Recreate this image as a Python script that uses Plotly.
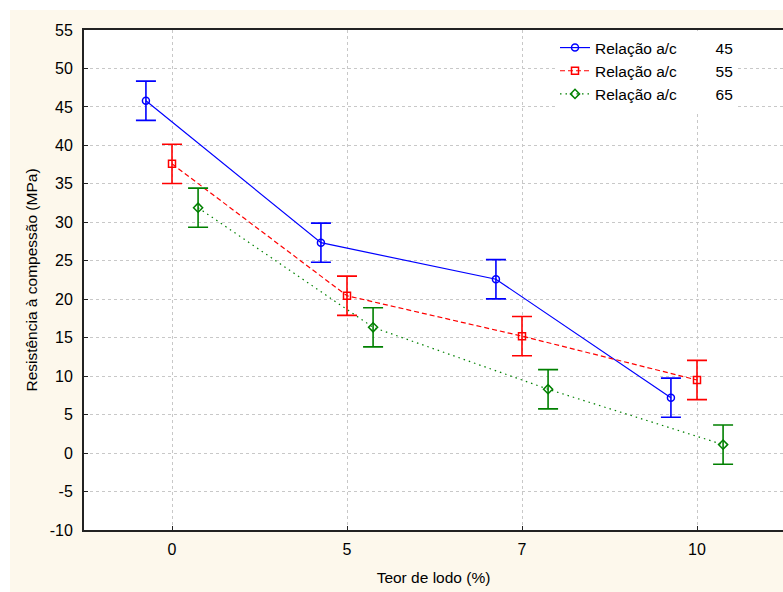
import plotly.graph_objects as go

categories = ["0", "5", "7", "10"]
nb = "\u00a0" * 9
series_names = ["Relação a/c" + nb + "45", "Relação a/c" + nb + "55", "Relação a/c" + nb + "65"]
ac45 = [45.8, 27.35, 22.6, 7.2]
ac55 = [37.6, 20.45, 15.2, 9.5]
ac65 = [31.9, 16.35, 8.3, 1.1]
err45 = [2.55, 2.55, 2.55, 2.55]
err55 = [2.55, 2.55, 2.55, 2.55]
err65 = [2.55, 2.55, 2.55, 2.55]
y_ticks = list(range(-10, 56, 5))
y_ticktext = [str(v) for v in y_ticks]

styles = [
    dict(vals=ac45, err=err45, color="#0000FF", dash="solid", symbol="circle-open", off=-0.149),
    dict(vals=ac55, err=err55, color="#FF0000", dash="5px,3px", symbol="square-open", off=0.0),
    dict(vals=ac65, err=err65, color="#008000", dash="1.5px,4px", symbol="diamond-open", off=0.149),
]

fig = go.Figure()
for name, s in zip(series_names, styles):
    xs = [i + s["off"] for i in range(len(categories))]
    fig.add_trace(go.Scatter(
        x=xs, y=s["vals"], name=name, mode="lines+markers",
        line=dict(color=s["color"], width=1.2, dash=s["dash"]),
        marker=dict(symbol=s["symbol"], size=7, color=s["color"],
                    line=dict(width=1.5, color=s["color"])),
        error_y=dict(type="data", array=s["err"], visible=True,
                     color=s["color"], thickness=1.6, width=10),
    ))

W, H = 783, 592
L, R, T, B = 84, 0, 30, 62
pw, ph = W - L - R, H - T - B
bx0 = (10 - L) / pw
by1 = (H - B - 10) / ph
by0 = (H - B - H) / ph
cat_px = 175.0
x_lo = -(172 - L) / cat_px
x_hi = x_lo + pw / cat_px

fig.update_layout(
    width=W, height=H,
    margin=dict(l=L, r=R, t=T, b=B),
    paper_bgcolor="white", plot_bgcolor="white",
    font=dict(family="Arial, Liberation Sans, sans-serif", color="#000000"),
    showlegend=True,
    legend=dict(x=(555 - L) / pw, y=(H - B - 31) / ph, xanchor="left", yanchor="top",
                bgcolor="white", borderwidth=0, font=dict(size=15.5, color="#000000"),
                tracegroupgap=0, itemwidth=30),
    shapes=[
        dict(type="rect", xref="paper", yref="paper", x0=bx0, x1=1.05, y0=by0, y1=by1,
             fillcolor="#FDF8EC", line=dict(width=0), layer="below"),
        dict(type="rect", xref="paper", yref="paper", x0=0, x1=1.05, y0=0, y1=1,
             fillcolor="white", line=dict(width=0), layer="below"),
    ],
    xaxis=dict(
        range=[x_lo, x_hi], tickmode="array", tickvals=list(range(len(categories))),
        ticktext=categories, showgrid=True, gridcolor="#C8C8C8", griddash="dot", gridwidth=1,
        showline=True, linecolor="#222222", linewidth=2, mirror=True,
        ticks="inside", ticklen=4, tickcolor="#222222", zeroline=False,
        tickfont=dict(size=16, color="#000000"), ticklabelstandoff=4,
        title=dict(text="Teor de lodo (%)", font=dict(size=15.5), standoff=15),
    ),
    yaxis=dict(
        range=[-10, 55], tickmode="array", tickvals=y_ticks, ticktext=y_ticktext,
        showgrid=True, gridcolor="#C8C8C8", griddash="dot", gridwidth=1,
        showline=True, linecolor="#222222", linewidth=2, mirror=False,
        ticks="inside", ticklen=4, tickcolor="#222222", zeroline=False,
        tickfont=dict(size=16, color="#000000"), ticklabelstandoff=6,
        title=dict(text="Resistência à compessão (MPa)", font=dict(size=15.5), standoff=8),
    ),
)

fig.write_html("out.html")
